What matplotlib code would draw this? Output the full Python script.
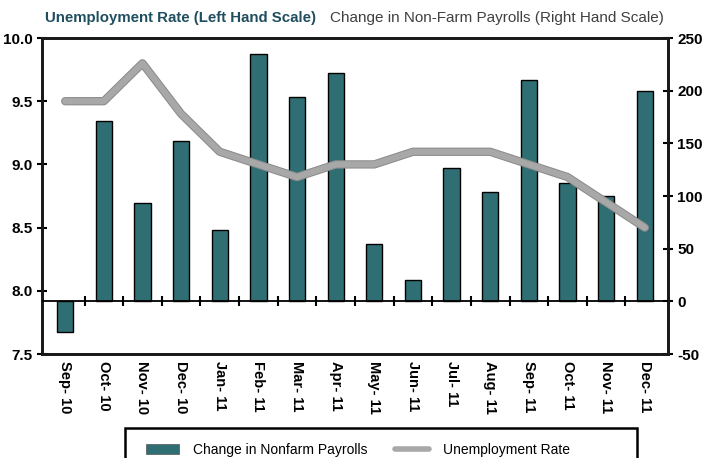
import numpy as np
import matplotlib
matplotlib.use("Agg")
import matplotlib.pyplot as plt
import matplotlib.patheffects as pe
from matplotlib.patches import Patch, Rectangle
from matplotlib.lines import Line2D

plt.rcParams['font.family'] = ['Liberation Sans', 'DejaVu Sans']
plt.rcParams['axes.unicode_minus'] = False

# data
months = ["Sep- 10", "Oct- 10", "Nov- 10", "Dec- 10", "Jan- 11", "Feb- 11", "Mar- 11", "Apr- 11",
          "May- 11", "Jun- 11", "Jul- 11", "Aug- 11", "Sep- 11", "Oct- 11", "Nov- 11", "Dec- 11"]
payrolls = [-29, 171, 93, 152, 68, 235, 194, 217, 54, 20, 127, 104, 210, 112, 100, 200]
unemployment = [9.5, 9.5, 9.8, 9.4, 9.1, 9.0, 8.9, 9.0, 9.0, 9.1, 9.1, 9.1, 9.0, 8.9, 8.7, 8.5]

teal = "#2f6f74"
grey = "#a8a8a8"

fig = plt.figure(figsize=(7.04, 4.58), dpi=100)
ax1 = fig.add_axes([42/704, 1-354/458, (668-42)/704, (354-38)/458])
ax2 = ax1.twinx()

x = np.arange(len(months))

# bars on right hand scale
ax2.bar(x, payrolls, width=0.42, color=teal, edgecolor="black", linewidth=1, zorder=2)
ax2.set_ylim(-50, 250)
ax2.set_yticks([-50, 0, 50, 100, 150, 200, 250])
ax2.axhline(0, color="black", lw=1.3, zorder=3)
ax2.plot(x[:-1] + 0.5, np.zeros(len(x) - 1), linestyle="none", marker="|",
         markersize=7, markeredgewidth=1.5, color="black", zorder=3)

# unemployment line on left hand scale, drawn on top
ax3 = ax1.twinx()
ax3.set_ylim(7.5, 10.0)
ax3.axis("off")
ax3.plot(x, unemployment, color=grey, lw=4.5, solid_capstyle="round", solid_joinstyle="round",
         path_effects=[pe.Stroke(linewidth=6, foreground="#8c8c8c"), pe.Normal()], zorder=4)

ax1.set_ylim(7.5, 10.0)
ax1.set_yticks([7.5, 8.0, 8.5, 9.0, 9.5, 10.0])
ax1.set_yticklabels(["%.1f" % v for v in [7.5, 8.0, 8.5, 9.0, 9.5, 10.0]])
ax1.set_xlim(-0.6, len(months) - 0.4)
ax1.set_xticks(x)
ax1.set_xticklabels(months, rotation=-90, fontsize=10.5, fontweight="bold")
ax1.tick_params(axis="x", length=0, pad=5)
ax1.tick_params(axis="y", direction="inout", length=7, width=1.5, labelsize=11, pad=3)
ax2.tick_params(axis="y", direction="inout", length=7, width=1.5, labelsize=11, pad=3)
for lab in ax1.get_yticklabels() + ax2.get_yticklabels():
    lab.set_fontweight("bold")

for ax in (ax1, ax2):
    for s in ax.spines.values():
        s.set_linewidth(2)
        s.set_color("#1a1a1a")

fig.text(45/704, 1-18/458, "Unemployment Rate (Left Hand Scale)", color="#1f4e5f",
         fontsize=10.8, fontweight="bold", va="center", ha="left")
fig.text(330/704, 1-18/458, "Change in Non-Farm Payrolls (Right Hand Scale)", color="#404040",
         fontsize=11, va="center", ha="left")

# legend box is wider than its entries, so draw the frame separately
fig.patches.append(Rectangle((125/704, -0.02), (637-125)/704, 0.02 + 1-428/458,
                             transform=fig.transFigure, fill=False, edgecolor="black", lw=1.8))
handles = [Patch(facecolor=teal, edgecolor="#555555", linewidth=0.5),
           Line2D([0], [0], color=grey, lw=4, solid_capstyle="round")]
leg = fig.legend(handles, ["Change in Nonfarm Payrolls", "Unemployment Rate"],
                 loc="upper left", bbox_to_anchor=(132/704, 1-429/458), ncol=2,
                 frameon=False, fontsize=10,
                 handlelength=2.4, handletextpad=1.0, columnspacing=2.0, borderpad=0.5)

fig.savefig("out.png", dpi=100)
